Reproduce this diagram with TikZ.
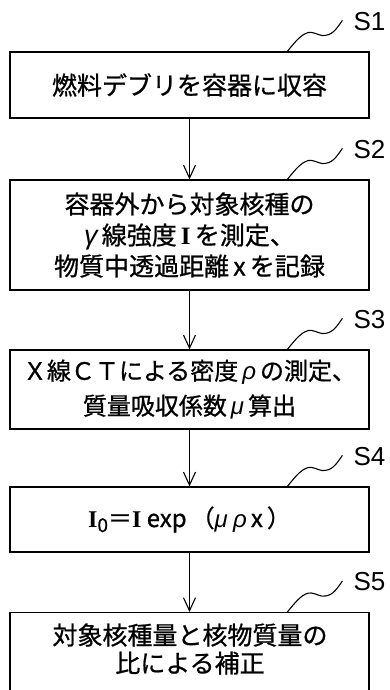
\documentclass[tikz,border=0pt]{standalone}
\usepackage{fontspec}
\setmainfont{Noto Sans CJK JP}[FakeBold=0.8]
\newfontfamily\serifI{Liberation Serif}
\newfontfamily\labfont{Liberation Sans}
\usetikzlibrary{arrows.meta,calc}
\newcommand{\gk}[1]{{\labfont\itshape #1}}
\newcommand{\bI}{{\serifI\bfseries I}}
\begin{document}
\begin{tikzpicture}[x=1pt,y=-1pt,
  box/.style={draw, line width=1.2pt, minimum width=359pt, inner sep=0pt, align=center,
              font=\fontsize{25}{31}\selectfont},
  boxtext/.style={inner sep=0pt, align=center, font=\fontsize{25}{31}\selectfont},
  flow/.style={-{Straight Barb[length=13pt,width=12pt]}, line width=1.1pt},
  steplab/.style={font=\labfont\fontsize{26}{26}\selectfont, inner sep=0pt, anchor=west},
  squig/.style={line width=1.1pt}]
\useasboundingbox (0,0) rectangle (390,690);

% boxes
\node[box, minimum height=66pt] (s1) at (189.5,85) {燃料デブリを容器に収容};
\node[box, minimum height=110pt] (s2) at (189.5,235)
  {容器外から対象核種の\\ {\fontsize{27}{31}\selectfont\gk{γ}}\,線強度\,\bI\,を測定、\\ 物質中透過距離\,x\,を記録};
\node[box, minimum height=79pt, font=\fontsize{24}{31}\selectfont] (s3) at (189.5,389.5)
  {Ｘ線ＣＴによる密度\,\gk{ρ}\,の測定、\\[4pt] 質量吸収係数\,\gk{μ}\,算出};
\node[box, minimum height=65pt, font=\fontsize{24}{31}\selectfont] (s4) at (189.5,519.5)
  {\bI{\raisebox{-5pt}{\fontsize{19}{19}\selectfont 0}}＝\bI\ exp\,（\gk{μ}\ \gk{ρ}\,x\,）};
\node[box, minimum height=110pt, anchor=north] (s5) at (189.5,612) {};
\node[boxtext] (t5) at (190,649) {対象核種量と核物質量の\\[-3pt] 比による補正};

% connectors
\draw[flow] (s1.south) -- (s2.north);
\draw[flow] (s2.south) -- (s3.north);
\draw[flow] (s3.south) -- (s4.north);
\draw[flow] (s4.south) -- (s5.north);

% step labels with leaders
\foreach \b/\t in {s1/S1, s2/S2, s3/S3, s4/S4, s5/S5}{
  \coordinate (q\b) at ($(\b.north west)+(278,0)$);
  \node[steplab] (lab\b) at ($(\b.north west)+(344,-30)$) {\t};
  \draw[squig, shift={(q\b)}] (0,0) .. controls (8,-10) and (16,-20) .. (24,-19)
     .. controls (30,-18) and (33,-15) .. (38,-16)
     .. controls (46,-17) and (50,-24) .. (55,-31);
}
\end{tikzpicture}
\end{document}
